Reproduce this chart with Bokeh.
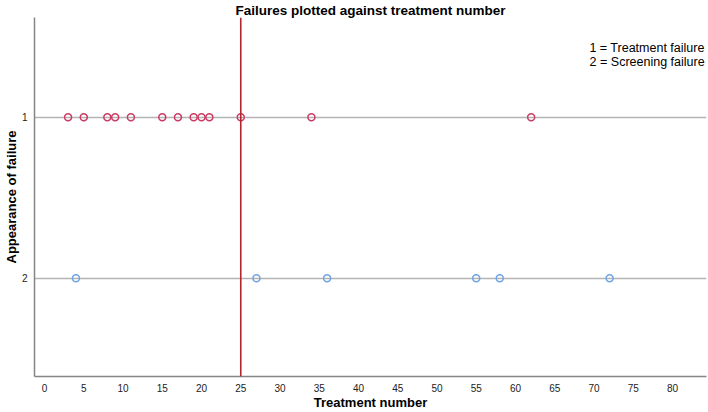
from bokeh.plotting import figure
from bokeh.models import Range1d, FixedTicker, Span, Label, ColumnDataSource
from bokeh.embed import file_html
from bokeh.resources import INLINE

# Data
treatment_failures = [3, 5, 8, 9, 11, 15, 17, 19, 20, 21, 25, 34, 62]
screening_failures = [4, 27, 36, 55, 58, 72]
cutoff = 25
x_ticks = list(range(0, 85, 5))
y_ticks = [1, 2]
legend_lines = ["1 = Treatment failure", "2 = Screening failure"]

FONT = "Liberation Sans"

p = figure(width=708, height=412, output_backend="svg", toolbar_location=None,
           x_range=Range1d(-1.28, 84.34), y_range=Range1d(2.61, 0.38),
           min_border_left=0, min_border_right=2, min_border_top=0, min_border_bottom=0,
           title="Failures plotted against treatment number")
p.outline_line_color = None
p.background_fill_color = "white"
p.border_fill_color = "white"

p.title.align = "center"
p.title.text_font = FONT
p.title.text_font_size = "13.5px"
p.title.text_font_style = "bold"
p.title.text_color = "black"
p.title.standoff = 0

p.xaxis.ticker = FixedTicker(ticks=x_ticks)
p.yaxis.ticker = FixedTicker(ticks=y_ticks)
for ax in (p.xaxis, p.yaxis):
    ax.axis_line_color = "#858585"
    ax.axis_line_width = 1.5
    ax.major_tick_line_color = None
    ax.minor_tick_line_color = None
    ax.major_label_text_font = FONT
    ax.major_label_text_font_size = "10px"
    ax.major_label_text_color = "#222222"
    ax.axis_label_text_font = FONT
    ax.axis_label_text_font_size = "13px"
    ax.axis_label_text_font_style = "bold"
    ax.axis_label_text_color = "black"
p.xaxis.axis_label = "Treatment number"
p.yaxis.axis_label = "Appearance of failure"
p.xaxis.major_label_standoff = 1
p.xaxis.axis_label_standoff = 0
p.yaxis.major_label_standoff = 1
p.yaxis.axis_label_standoff = 0
p.yaxis.major_label_orientation = "horizontal"

p.xgrid.grid_line_color = None
p.ygrid.grid_line_color = "#b4b4b4"
p.ygrid.grid_line_width = 1.3

vline = Span(location=cutoff, dimension="height", line_color="#b3242b", line_width=1.6)
p.add_layout(vline)

src1 = ColumnDataSource(dict(x=treatment_failures, y=[1] * len(treatment_failures)))
src2 = ColumnDataSource(dict(x=screening_failures, y=[2] * len(screening_failures)))
p.scatter("x", "y", source=src1, marker="circle", size=7, fill_color=None,
          line_color="#cc3a64", line_width=1.5)
p.scatter("x", "y", source=src2, marker="circle", size=7, fill_color=None,
          line_color="#6ea3e6", line_width=1.5)

for i, t in enumerate(legend_lines):
    p.add_layout(Label(x=84.1, y=0.571 + 0.085 * i, text=t, text_align="right",
                       text_baseline="middle", text_font=FONT, text_font_size="12.5px",
                       text_color="black"))

open("out.html", "w").write(file_html(p, INLINE))
